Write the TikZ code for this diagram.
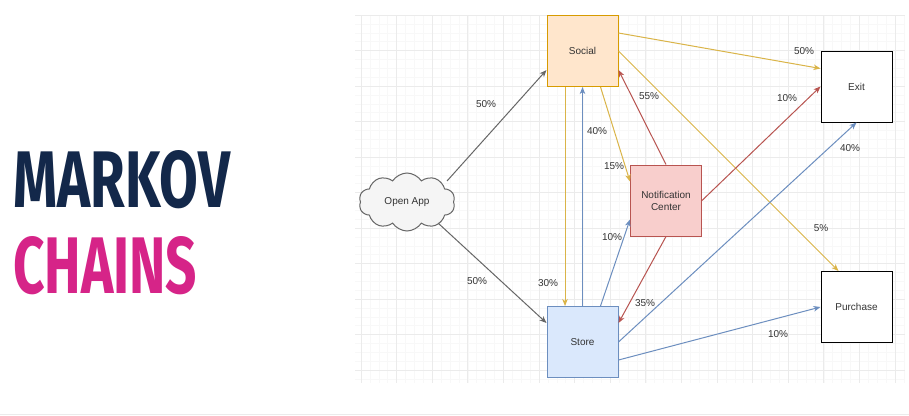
\documentclass[tikz,border=0pt]{standalone}
\usepackage{fontspec}
\setmainfont{Liberation Sans}
\newfontfamily\titlefont{Fira Sans}
\usetikzlibrary{shapes.symbols,arrows.meta}
\definecolor{navy}{HTML}{13284A}
\definecolor{magenta}{HTML}{D62488}
\definecolor{gridmaj}{HTML}{EBEBEB}
\definecolor{gridmin}{HTML}{F8F8F8}
\definecolor{socfill}{HTML}{FFE6CC}
\definecolor{socline}{HTML}{D79B00}
\definecolor{stofill}{HTML}{DAE8FC}
\definecolor{stoline}{HTML}{6C8EBF}
\definecolor{notfill}{HTML}{F8CECC}
\definecolor{notline}{HTML}{B85450}
\definecolor{yel}{HTML}{DAB448}
\definecolor{gry}{HTML}{666666}
\definecolor{txt}{HTML}{333333}
\definecolor{cloudfill}{HTML}{F5F5F5}
\tikzset{
  statebox/.style={draw, line width=1pt, minimum width=71pt, minimum height=71pt, inner sep=0pt, align=center, text=txt},
  edge/.style={line width=1pt, -{Stealth[length=7pt,width=5.5pt,inset=2pt]}},
  lbl/.style={text=txt, inner sep=0pt},
}
\begin{document}
\begin{tikzpicture}[x=1pt,y=-1pt,font=\fontsize{10}{12}\selectfont]
\useasboundingbox[fill=white] (0,0) rectangle (909,415);
% bottom border line
\fill[gridmaj] (0,413.5) rectangle (909,415);
% grid
\foreach \i in {0,...,61} \draw[gridmin,line width=0.5pt] ({361+8.9*\i},15) -- ({361+8.9*\i},383);
\foreach \j in {0,...,41} \draw[gridmin,line width=0.5pt] (355,{15+8.875*\j}) -- (905,{15+8.875*\j});
\foreach \i in {0,...,15} \draw[gridmaj,line width=0.8pt] ({361+35.6*\i},15) -- ({361+35.6*\i},383);
\foreach \j in {0,...,10} \draw[gridmaj,line width=0.8pt] (355,{15+35.5*\j}) -- (905,{15+35.5*\j});

% title
\node[anchor=north west, inner sep=0pt, text=navy] (markov) at (13,150) {\resizebox{217pt}{57pt}{\titlefont\bfseries MARKOV}};
\node[anchor=north west, inner sep=0pt, text=magenta] (chains) at (13,236) {\resizebox{184pt}{57pt}{\titlefont\bfseries CHAINS}};

% nodes
\node[cloud, cloud puffs=10, cloud puff arc=115, aspect=1.7, draw=gry, fill=cloudfill, line width=1pt, minimum width=96pt, minimum height=58pt, inner sep=0pt, text=txt] (open) at (407,202) {Open App};
\node[statebox, draw=socline, fill=socfill] (social) at (582.5,51) {Social};
\node[statebox, draw=stoline, fill=stofill] (store) at (582.5,342) {Store};
\node[statebox, draw=notline, fill=notfill] (notif) at (666,200.5) {Notification\\Center};
\node[statebox, draw=black, fill=white] (exit) at (856.5,86.5) {Exit};
\node[statebox, draw=black, fill=white] (purchase) at (856.5,307) {Purchase};

% edges
\draw[edge, gry] ([xshift=40pt,yshift=21pt]open.center) -- ([yshift=-19pt]social.west);
\draw[edge, gry] ([xshift=31pt,yshift=-21pt]open.center) -- ([yshift=19pt]store.west);
\draw[edge, yel] ([xshift=-17.5pt]social.south) -- ([xshift=-17.5pt]store.north);
\draw[edge, stoline] (store.north) -- (social.south);
\draw[edge, yel] ([xshift=18pt]social.south) -- ([yshift=19pt]notif.west);
\draw[edge, notline] (notif.north) -- ([yshift=-19pt]social.east);
\draw[edge, yel] ([yshift=18pt]social.east) -- ([yshift=18pt]exit.west);
\draw[edge, yel] (social.east) -- ([xshift=-18pt]purchase.north);
\draw[edge, notline] (notif.east) -- (exit.west);
\draw[edge, notline] (notif.south) -- ([yshift=19pt]store.east);
\draw[edge, stoline] ([xshift=18pt]store.north) -- ([yshift=-19pt]notif.west);
\draw[edge, stoline] (store.east) -- (exit.south);
\draw[edge, stoline] ([yshift=-18pt]store.east) -- (purchase.west);

% labels
\node[lbl] (l1) at (486,104) {50\%};
\node[lbl] (l2) at (477,281) {50\%};
\node[lbl] (l3) at (548,283) {30\%};
\node[lbl] (l4) at (597,131) {40\%};
\node[lbl] (l5) at (614,166) {15\%};
\node[lbl] (l6) at (649,96) {55\%};
\node[lbl] (l7) at (804,51) {50\%};
\node[lbl] (l8) at (821,228) {5\%};
\node[lbl] (l9) at (787,98) {10\%};
\node[lbl] (l10) at (645,303) {35\%};
\node[lbl] (l11) at (612,237) {10\%};
\node[lbl] (l12) at (850,148) {40\%};
\node[lbl] (l13) at (778,334) {10\%};
\end{tikzpicture}
\end{document}
